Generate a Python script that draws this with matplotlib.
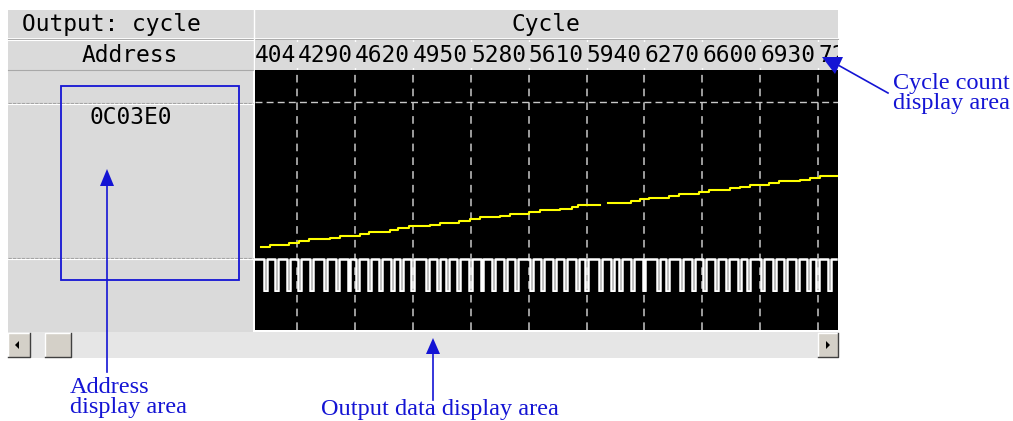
import matplotlib
matplotlib.use('Agg')
import matplotlib.pyplot as plt
from matplotlib.patches import Rectangle, Polygon
from matplotlib import font_manager
import numpy as np

# cycle column labels shown in the header
col_labels = ['4048', '4290', '4620', '4950', '5280', '5610', '5940', '6270', '6600', '6930', '7260']
col_pos = [4048, 4290, 4620, 4950, 5280, 5610, 5940, 6270, 6600, 6930, 7260]
x_range = (4048, 7374)

address = '0C03E0'

# yellow trace (step start cycle, level); nan = gap in the trace
trace_cycle = [4080, 4135, 4244, 4301, 4358, 4478, 4535, 4649, 4700, 4820, 4866, 4928,
               5048, 5105, 5213, 5276, 5333, 5447, 5504, 5612, 5675, 5789, 5858, 5892,
               6017, 6063, 6194, 6245, 6296, 6410, 6467, 6581, 6638, 6758, 6815, 6872,
               6980, 7037, 7157, 7214, 7271, 7380]
trace_level = [7.2, 8.1, 9.4, 10.7, 12.0, 13.0, 14.1, 15.4, 16.7, 17.9, 19.0, 20.3,
               21.2, 22.6, 23.9, 24.8, 26.1, 26.9, 28.2, 29.5, 30.6, 31.4, 32.5, 33.8,
               np.nan, 35.1, 36.3, 37.6, 38.7, 39.7, 41.0, 42.1, 43.4, 44.7, 45.7, 46.8,
               47.9, 49.2, 50.2, 51.5, 52.6, 52.6]

# digital output bits, one sample per 16.5 cycles
pulse_step = 16.5
pulse_bits = ("11101110111011101110" "11110111011101101110" "11101110110111011110"
              "11101101110111011101" "11011101110111101110" "11101110111011011110"
              "11101101110111011110" "11011110111011101110" "11101110110111101110"
              "11101110111011011101" "11")

W, H = 1013, 421
fig = plt.figure(figsize=(W / 100, H / 100), dpi=100)

names = {f.name for f in font_manager.fontManager.ttflist}
if 'Liberation Sans Narrow' in names:
    gui_font = ['Liberation Sans Narrow', 'DejaVu Sans']
    gsize = 20
else:
    gui_font = ['DejaVu Sans Mono']
    gsize = 16.5
ann_font = ['Liberation Serif', 'DejaVu Serif']
blue = '#1414d4'
face = '#dadada'


def px_axes(x0, y0, x1, y1):
    return fig.add_axes([x0 / W, 1 - y1 / H, (x1 - x0) / W, (y1 - y0) / H])


# window chrome
scr = px_axes(0, 0, W, H)
scr.set_xlim(0, W)
scr.set_ylim(H, 0)
scr.axis('off')
scr.add_patch(Rectangle((8, 10), 830, 28, fc=face, ec='none'))
scr.add_patch(Rectangle((8, 40), 830, 30, fc=face, ec='none'))
scr.add_patch(Rectangle((8, 70), 245, 262, fc=face, ec='none'))
scr.plot([8, 838], [38.5, 38.5], color='#a8a8a8', lw=0.8)
scr.plot([8, 838], [39.5, 39.5], color='white', lw=0.8)
scr.plot([8, 253], [69.5, 69.5], color='#a8a8a8', lw=0.8)
scr.plot([253.5, 253.5], [10, 330], color='white', lw=1)
for yy in [102.5, 257.5]:
    scr.plot([8, 253], [yy, yy], color='#a0a0a0', lw=0.8, ls=(0, (3, 1)))
    scr.plot([8, 253], [yy + 1, yy + 1], color='white', lw=0.8)
scr.text(22, 24, 'Output: cycle', family=gui_font, fontsize=gsize, va='center', ha='left')
scr.text(546, 24, 'Cycle', family=gui_font, fontsize=gsize, va='center', ha='center')
scr.text(130, 55, 'Address', family=gui_font, fontsize=gsize, va='center', ha='center')
scr.text(131, 117, address, family=gui_font, fontsize=gsize, va='center', ha='center')

# scrollbar
scr.add_patch(Rectangle((8, 332), 830, 26, fc='#e6e6e6', ec='none'))
for bx, w in [(8, 22), (45, 26), (818, 20)]:
    scr.add_patch(Rectangle((bx, 333), w, 24, fc='#d4d0c8', ec='none'))
    scr.plot([bx, bx, bx + w], [357, 333, 333], color='white', lw=1)
    scr.plot([bx, bx + w, bx + w], [357, 357, 333], color='#404040', lw=1)
scr.add_patch(Polygon([[15, 345], [19, 341], [19, 349]], closed=True, fc='black', ec='none'))
scr.add_patch(Polygon([[830, 345], [826, 341], [826, 349]], closed=True, fc='black', ec='none'))

# header with cycle labels
axh = px_axes(255, 40, 838, 70)
axh.set_facecolor(face)
axh.set_xlim(*x_range)
axh.set_ylim(0, 1)
axh.set_xticks([])
axh.set_yticks([])
for s in axh.spines.values():
    s.set_visible(False)
for p, lab in zip(col_pos, col_labels):
    axh.text(p, 0.5, lab, family=gui_font, fontsize=gsize, ha='left', va='center',
             clip_on=True, bbox=dict(boxstyle='square,pad=0.05', fc=face, ec='none'))
    if p != col_pos[0]:
        axh.axvline(p, color='white', lw=1)

# output data area
ax = px_axes(255, 70, 838, 330)
ax.set_facecolor('black')
ax.set_xlim(*x_range)
ax.set_ylim(-46.2, 120.5)
ax.set_xticks([])
ax.set_yticks([])
for s in ax.spines.values():
    s.set_visible(False)
for p in col_pos[1:]:
    ax.axvline(p, color='#c8c8c8', lw=1.1, ls=(0, (5, 4)))
ax.axhline(100, color='#c8c8c8', lw=1.0, ls=(0, (5, 3)))
ax.step(trace_cycle, trace_level, where='post', color='#ffff00', lw=1.5)

axp = px_axes(255, 258, 838, 292)
axp.patch.set_visible(False)
axp.axis('off')
axp.set_xlim(*x_range)
axp.set_ylim(-1 / 32, 1 + 1 / 32)
bits = [int(b) for b in pulse_bits]
t = x_range[0] + pulse_step * np.arange(len(bits))
axp.step(t, bits, where='post', color='white', lw=1.8)

# blue annotations
ann = px_axes(0, 0, W, H)
ann.patch.set_visible(False)
ann.set_xlim(0, W)
ann.set_ylim(H, 0)
ann.axis('off')
ann.add_patch(Rectangle((60.5, 85.5), 178, 194, fill=False, ec=blue, lw=1.3))
ann.add_patch(Polygon([[107, 169], [100, 186], [114, 186]], closed=True, fc=blue, ec='none'))
ann.plot([107, 107], [186, 372], color=blue, lw=1.2)
ann.text(70, 377, 'Address\ndisplay area', family=ann_font, fontsize=17.5, color=blue,
         ha='left', va='top', linespacing=0.95)
ann.add_patch(Polygon([[433, 338], [426, 354], [440, 354]], closed=True, fc=blue, ec='none'))
ann.plot([433, 433], [354, 400], color=blue, lw=1.2)
ann.text(440, 410, 'Output data display area', family=ann_font, fontsize=17.5, color=blue,
         ha='center', va='center')
ann.add_patch(Polygon([[822, 57], [843, 57], [835, 74]], closed=True, fc=blue, ec='none'))
ann.plot([838, 888], [65, 93], color=blue, lw=1.2)
ann.text(893, 73, 'Cycle count\ndisplay area', family=ann_font, fontsize=17.5, color=blue,
         ha='left', va='top', linespacing=0.95)

fig.savefig('out.png', dpi=100, facecolor='white')
